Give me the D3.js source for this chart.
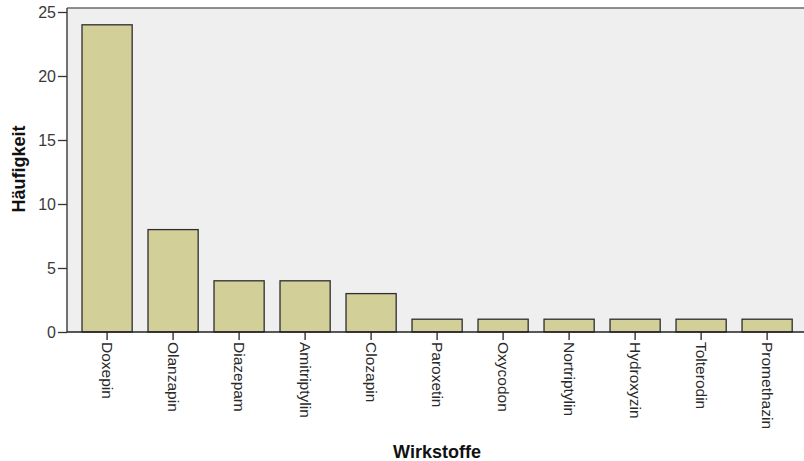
<!DOCTYPE html>
<html>
<head>
<meta charset="utf-8">
<script src="https://cdn.jsdelivr.net/npm/d3@7"></script>
<style>
  html, body { margin: 0; padding: 0; background: #fff; }
  svg { display: block; font-family: Arial, "Liberation Sans", sans-serif; }
</style>
</head>
<body>
<svg id="chart" width="804" height="461"></svg>
<script>
// Wirkstoffe und ihre Häufigkeiten
const categories = ["Doxepin", "Olanzapin", "Diazepam", "Amitriptylin", "Clozapin",
  "Paroxetin", "Oxycodon", "Nortriptylin", "Hydroxyzin", "Tolterodin", "Promethazin"];
const counts = [24, 8, 4, 4, 3, 1, 1, 1, 1, 1, 1];
const yTicks = [0, 5, 10, 15, 20, 25];

const svg = d3.select("#chart");
const plot = { left: 67, right: 804, top: 8, bottom: 332 };

const x = d3.scaleBand()
  .domain(categories)
  .range([82, 792.2])
  .paddingInner(0.24)
  .paddingOuter(0);

const y = d3.scaleLinear()
  .domain([0, 25])
  .range([plot.bottom, 12]);

// plot background
svg.append("rect")
  .attr("x", plot.left).attr("y", plot.top)
  .attr("width", plot.right - plot.left).attr("height", plot.bottom - plot.top)
  .attr("fill", "#efeff0");

// top frame line
svg.append("line")
  .attr("x1", plot.left).attr("x2", plot.right)
  .attr("y1", plot.top).attr("y2", plot.top)
  .attr("stroke", "#6a6a6a").attr("stroke-width", 1.5);

// bars
svg.append("g").selectAll("rect")
  .data(categories)
  .join("rect")
  .attr("x", d => x(d))
  .attr("width", x.bandwidth())
  .attr("y", (d, i) => y(counts[i]))
  .attr("height", (d, i) => y(0) - y(counts[i]))
  .attr("fill", "#d3cf98")
  .attr("stroke", "#2e2e2e")
  .attr("stroke-width", 1.3);

// y axis
const yAxis = svg.append("g")
  .attr("transform", `translate(${plot.left},0)`)
  .call(d3.axisLeft(y).tickValues(yTicks).tickSize(9).tickSizeOuter(0).tickPadding(2));
yAxis.select(".domain").attr("stroke", "#444").attr("stroke-width", 1.5)
  .attr("d", `M0,${plot.top}V${plot.bottom}`);
yAxis.selectAll(".tick line").attr("stroke", "#333").attr("stroke-width", 1.3);
yAxis.selectAll(".tick text")
  .attr("font-size", 16).attr("fill", "#3a3a3a")
  .attr("font-family", "Arial, 'Liberation Sans', sans-serif");

// x axis
const xAxis = svg.append("g")
  .attr("transform", `translate(0,${plot.bottom})`)
  .call(d3.axisBottom(x).tickSize(8).tickSizeOuter(0).tickPadding(2));
xAxis.select(".domain").attr("stroke", "#222").attr("stroke-width", 1.5)
  .attr("d", `M${plot.left},0H${plot.right}`);
xAxis.selectAll(".tick line").attr("stroke", "#222").attr("stroke-width", 1.3);
xAxis.selectAll(".tick text")
  .attr("font-size", 15.5).attr("fill", "#2a2a2a")
  .attr("font-family", "Arial, 'Liberation Sans', sans-serif")
  .attr("text-anchor", "start")
  .attr("dy", "0.35em")
  .attr("transform", "translate(0,2) rotate(90)")
  .attr("x", 8).attr("y", 0);

// axis titles
svg.append("text")
  .attr("transform", "translate(25,169) rotate(-90)")
  .attr("text-anchor", "middle")
  .attr("font-size", 18).attr("font-weight", "bold").attr("fill", "#111")
  .text("Häufigkeit");

svg.append("text")
  .attr("x", 437).attr("y", 458)
  .attr("text-anchor", "middle")
  .attr("font-size", 18).attr("font-weight", "bold").attr("fill", "#111")
  .text("Wirkstoffe");
</script>
</body>
</html>
